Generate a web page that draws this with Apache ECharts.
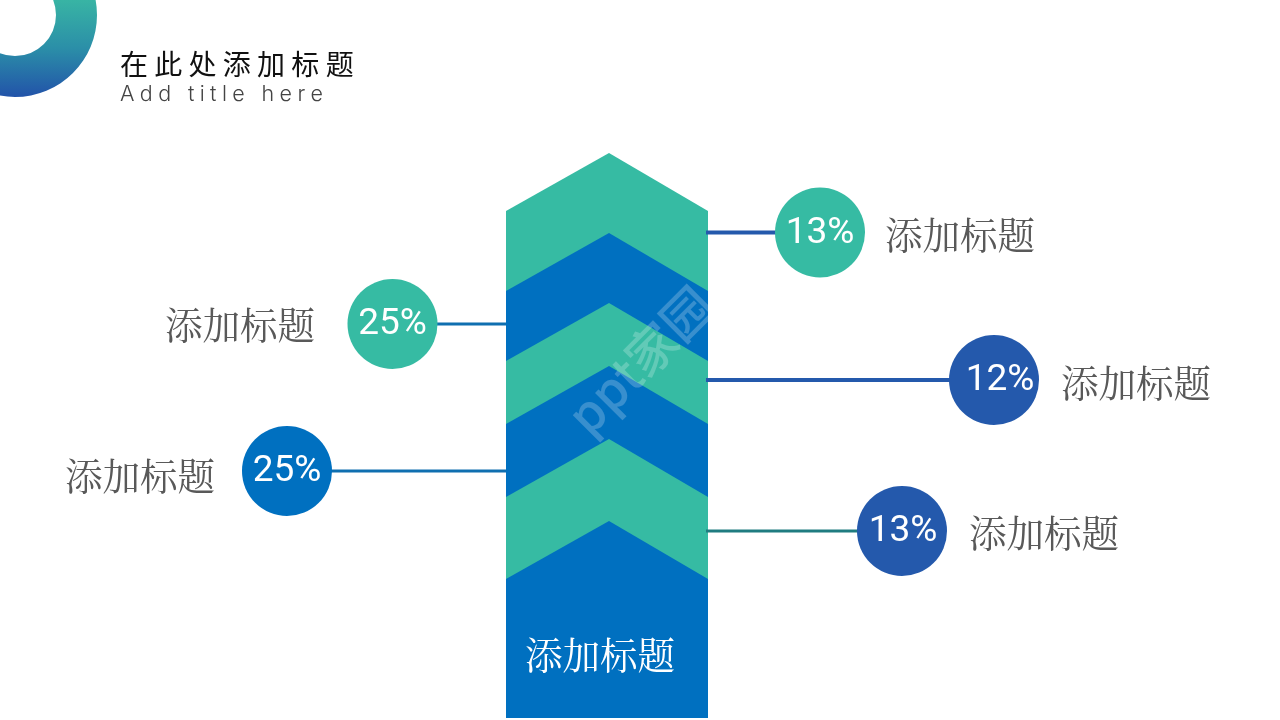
<!DOCTYPE html>
<html style="height: 100%">
<head>
<meta charset="utf-8">
<script src="https://cdn.jsdelivr.net/npm/echarts@6/dist/echarts.min.js"></script>
</head>
<body style="height: 100%; margin: 0; background: #fff">
<div id="container" style="width: 1280px; height: 720px"></div>
<script>
// values
var titleText = '在 此 处 添 加 标 题';
var subtitleText = 'A\u2005d\u2005d\u2005 \u2005t\u2005i\u2005t\u2005l\u2005e\u2005 \u2005h\u2005e\u2005r\u2005e';
var percentValues = [13, 12, 13, 25, 25];
var calloutNames = ['添加标题', '添加标题', '添加标题', '添加标题', '添加标题'];
var baseName = '添加标题';
var watermark = 'ppt家园';

// layout, in page pixels (the hidden axes run 0-1280 and 0-720)
var circleX = [820, 994, 902, 392.5, 287];
var circleY = [232.5, 380, 531, 324, 471];
var circleColor = ['#36BBA3', '#2459AC', '#2459AC', '#36BBA3', '#0070C0'];
var percentOffsetX = [0, 6, 1, 0, 0];
var nameX = [960, 1136, 1044, 240, 140];
var nameY = [235, 383, 533, 325, 476];
var lineEndX = [706, 706, 706, 506, 506];
var lineWidth = [4, 4, 3, 3, 3];
var lineColor = ['#2459AC', '#2459AC', '#1F7C80', '#0F6FB0', '#0F6FB0'];
var chevronTip = [153, 233, 303, 366, 439, 521];
var chevronColor = ['#36BBA3', '#0070C0', '#36BBA3', '#0070C0', '#36BBA3', '#0070C0'];
var towerLeft = 506, towerRight = 708, towerMid = 609, towerBottom = 718, shoulderDrop = 58;

var serif = '"Noto Serif CJK SC", "Liberation Serif", "Noto Sans CJK SC", serif';

var myChart = echarts.init(document.getElementById('container'));

var option = {
    animation: false,
    backgroundColor: '#fff',
    title: [{
        text: titleText,
        left: 120, top: 50, padding: 0,
        textStyle: { color: '#111', fontSize: 28, fontWeight: 'normal', fontFamily: '"Noto Sans CJK SC"' }
    }, {
        text: subtitleText,
        left: 120, top: 84, padding: 0,
        textStyle: { color: '#444', fontSize: 21.5, fontWeight: 300, fontFamily: 'Inter' }
    }],
    grid: { left: 0, right: 0, top: 0, bottom: 0 },
    xAxis: { type: 'value', min: 0, max: 1280, show: false },
    yAxis: { type: 'value', min: 0, max: 720, inverse: true, show: false },
    graphic: [{
        type: 'ring',
        shape: { cx: 15, cy: 15, r: 82, r0: 41 },
        style: {
            fill: {
                type: 'linear', x: 0, y: 0, x2: 0, y2: 1,
                colorStops: [
                    { offset: 0.41, color: '#38B4A4' },
                    { offset: 0.7, color: '#2B8FA8' },
                    { offset: 1, color: '#2253A9' }
                ]
            }
        }
    }],
    series: [{
        // stacked chevrons, each one runs down to the foot of the tower
        type: 'custom',
        coordinateSystem: 'cartesian2d',
        data: chevronTip.map(function (y, i) { return [towerMid, y, i]; }),
        z: 1,
        renderItem: function (params, api) {
            var tip = api.value(1);
            var pts = [
                [towerLeft, tip + shoulderDrop],
                [towerMid, tip],
                [towerRight, tip + shoulderDrop],
                [towerRight, towerBottom],
                [towerLeft, towerBottom]
            ].map(function (p) { return api.coord(p); });
            return {
                type: 'polygon',
                shape: { points: pts },
                style: { fill: chevronColor[api.value(2)] }
            };
        }
    }, {
        type: 'custom',
        coordinateSystem: 'cartesian2d',
        data: circleX.map(function (x, i) { return [x, circleY[i], lineEndX[i], i]; }),
        z: 2,
        renderItem: function (params, api) {
            var a = api.coord([api.value(0), api.value(1)]);
            var b = api.coord([api.value(2), api.value(1)]);
            var i = api.value(3);
            return {
                type: 'line',
                shape: { x1: a[0], y1: a[1], x2: b[0], y2: b[1] },
                style: { stroke: lineColor[i], lineWidth: lineWidth[i] }
            };
        }
    }, {
        type: 'scatter',
        symbolSize: 90,
        z: 3,
        data: percentValues.map(function (v, i) {
            return {
                value: [circleX[i], circleY[i]],
                itemStyle: { color: circleColor[i], opacity: 1 },
                label: {
                    show: true,
                    position: 'inside',
                    offset: [percentOffsetX[i], 1],
                    formatter: v + '%',
                    color: '#fff',
                    fontSize: 37,
                    fontWeight: 400,
                    fontFamily: 'Roboto'
                }
            };
        })
    }, {
        // text labels beside the circles plus the one on the tower foot
        type: 'custom',
        coordinateSystem: 'cartesian2d',
        z: 4,
        data: calloutNames.map(function (n, i) { return [nameX[i], nameY[i], i]; }).concat([[600, 655, 5]]),
        renderItem: function (params, api) {
            var p = api.coord([api.value(0), api.value(1)]);
            var i = api.value(2);
            return {
                type: 'text',
                x: p[0], y: p[1],
                style: {
                    text: i < 5 ? calloutNames[i] : baseName,
                    fill: i < 5 ? '#595959' : '#fff',
                    font: '37.5px ' + serif,
                    align: 'center',
                    verticalAlign: 'middle'
                }
            };
        }
    }, {
        type: 'custom',
        coordinateSystem: 'cartesian2d',
        z: 5,
        silent: true,
        data: [[640, 360]],
        renderItem: function (params, api) {
            var p = api.coord([api.value(0), api.value(1)]);
            return {
                type: 'text',
                x: p[0], y: p[1],
                rotation: Math.PI / 4,
                style: {
                    text: watermark,
                    fill: 'rgba(255,255,255,0.22)',
                    font: '500 50px "Noto Sans CJK SC"',
                    align: 'center',
                    verticalAlign: 'middle'
                }
            };
        }
    }]
};
myChart.setOption(option);
</script>
</body>
</html>
